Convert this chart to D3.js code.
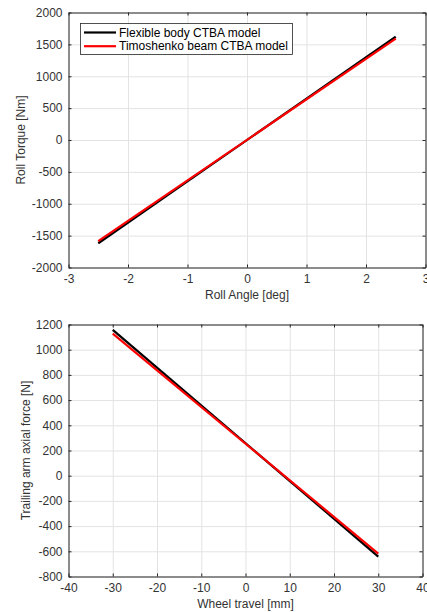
<!DOCTYPE html>
<html>
<head>
<meta charset="utf-8">
<script src="https://cdn.jsdelivr.net/npm/d3@7"></script>
<style>
  body { margin: 0; background: #fff; }
  svg { display: block; font-family: "Liberation Sans", Arial, sans-serif; }
  .axis path, .axis line { stroke: #262626; }
  .axis text { fill: #333; font-size: 12px; }
  .grid line { stroke: #e3e3e3; }
  .grid path { display: none; }
</style>
</head>
<body>
<div id="chart"></div>
<script>
// 数据：两条直线，每条只有两个端点
const seriesNames = ["Flexible body CTBA model", "Timoshenko beam CTBA model"];
const seriesColors = ["#000000", "#ff0000"];

const rollAngle = [-2.5, 2.5];
const rollTorqueFlex = [-1620, 1620];
const rollTorqueTimo = [-1585, 1590];
const rollXTicks = [-3, -2, -1, 0, 1, 2, 3];
const rollYTicks = [-2000, -1500, -1000, -500, 0, 500, 1000, 1500, 2000];

const wheelTravel = [-30, 30];
const axialForceFlex = [1158, -642];
const axialForceTimo = [1127, -618];
const wheelXTicks = [-40, -30, -20, -10, 0, 10, 20, 30, 40];
const wheelYTicks = [-800, -600, -400, -200, 0, 200, 400, 600, 800, 1000, 1200];

const W = 427, H = 612;
const svg = d3.select("#chart").append("svg")
  .attr("width", W).attr("height", H);

const fmt = d => String(d); // 普通连字符负号，无千分位

// 画一个 MATLAB 风格的坐标区
function drawPanel(cfg) {
  const { left, top, right, bottom } = cfg;
  const x = d3.scaleLinear().domain(d3.extent(cfg.xTicks)).range([left, right]);
  const y = d3.scaleLinear().domain(d3.extent(cfg.yTicks)).range([bottom, top]);
  const g = svg.append("g");

  // 网格
  g.append("g").attr("class", "grid")
    .attr("transform", `translate(0,${bottom})`)
    .call(d3.axisBottom(x).tickValues(cfg.xTicks).tickSize(-(bottom - top)).tickFormat(""));
  g.append("g").attr("class", "grid")
    .attr("transform", `translate(${left},0)`)
    .call(d3.axisLeft(y).tickValues(cfg.yTicks).tickSize(-(right - left)).tickFormat(""));

  // 数据线
  const line = d3.line().x(d => x(d[0])).y(d => y(d[1]));
  cfg.series.forEach((s, i) => {
    g.append("path")
      .datum(cfg.xs.map((v, k) => [v, s[k]]))
      .attr("d", line)
      .attr("fill", "none")
      .attr("stroke", seriesColors[i])
      .attr("stroke-width", 2.2);
  });

  // 坐标轴（刻度朝内，四边都有）
  g.append("g").attr("class", "axis")
    .attr("transform", `translate(0,${bottom})`)
    .call(d3.axisBottom(x).tickValues(cfg.xTicks).tickFormat(fmt).tickSizeInner(-3).tickSizeOuter(0).tickPadding(7));
  g.append("g").attr("class", "axis")
    .attr("transform", `translate(${left},0)`)
    .call(d3.axisLeft(y).tickValues(cfg.yTicks).tickFormat(fmt).tickSizeInner(-3).tickSizeOuter(0).tickPadding(6));
  g.append("g").attr("class", "axis")
    .attr("transform", `translate(0,${top})`)
    .call(d3.axisTop(x).tickValues(cfg.xTicks).tickSizeInner(-3).tickSizeOuter(0).tickFormat(""));
  g.append("g").attr("class", "axis")
    .attr("transform", `translate(${right},0)`)
    .call(d3.axisRight(y).tickValues(cfg.yTicks).tickSizeInner(-3).tickSizeOuter(0).tickFormat(""));

  // 轴标题
  g.append("text")
    .attr("x", (left + right) / 2).attr("y", cfg.xLabelY)
    .attr("text-anchor", "middle")
    .style("font-size", "12px").style("fill", "#333")
    .text(cfg.xLabel);
  g.append("text")
    .attr("transform", `translate(${cfg.yLabelX},${(top + bottom) / 2}) rotate(-90)`)
    .attr("text-anchor", "middle")
    .style("font-size", "12px").style("fill", "#333")
    .text(cfg.yLabel);

  return { x, y, g };
}

const p1 = drawPanel({
  left: 68.5, top: 12.5, right: 425.5, bottom: 267.5,
  xTicks: rollXTicks, yTicks: rollYTicks,
  xs: rollAngle, series: [rollTorqueFlex, rollTorqueTimo],
  xLabel: "Roll Angle [deg]", xLabelY: 299,
  yLabel: "Roll Torque [Nm]", yLabelX: 25
});

drawPanel({
  left: 68.5, top: 324.5, right: 422.5, bottom: 576.5,
  xTicks: wheelXTicks, yTicks: wheelYTicks,
  xs: wheelTravel, series: [axialForceFlex, axialForceTimo],
  xLabel: "Wheel travel [mm]", xLabelY: 608,
  yLabel: "Trailing arm axial force [N]", yLabelX: 30
});

// 图例（只在上图）
const lg = p1.g.append("g");
lg.append("rect")
  .attr("x", 80.5).attr("y", 23.5)
  .attr("width", 212).attr("height", 31)
  .attr("fill", "#fff").attr("stroke", "#262626").attr("stroke-width", 0.8);
seriesNames.forEach((name, i) => {
  const yy = 32.5 + i * 13.7;
  lg.append("line")
    .attr("x1", 84).attr("x2", 116).attr("y1", yy).attr("y2", yy)
    .attr("stroke", seriesColors[i]).attr("stroke-width", 2.2);
  lg.append("text")
    .attr("x", 119).attr("y", yy).attr("dy", "0.35em")
    .style("font-size", "12px").style("fill", "#000")
    .text(name);
});
</script>
</body>
</html>
